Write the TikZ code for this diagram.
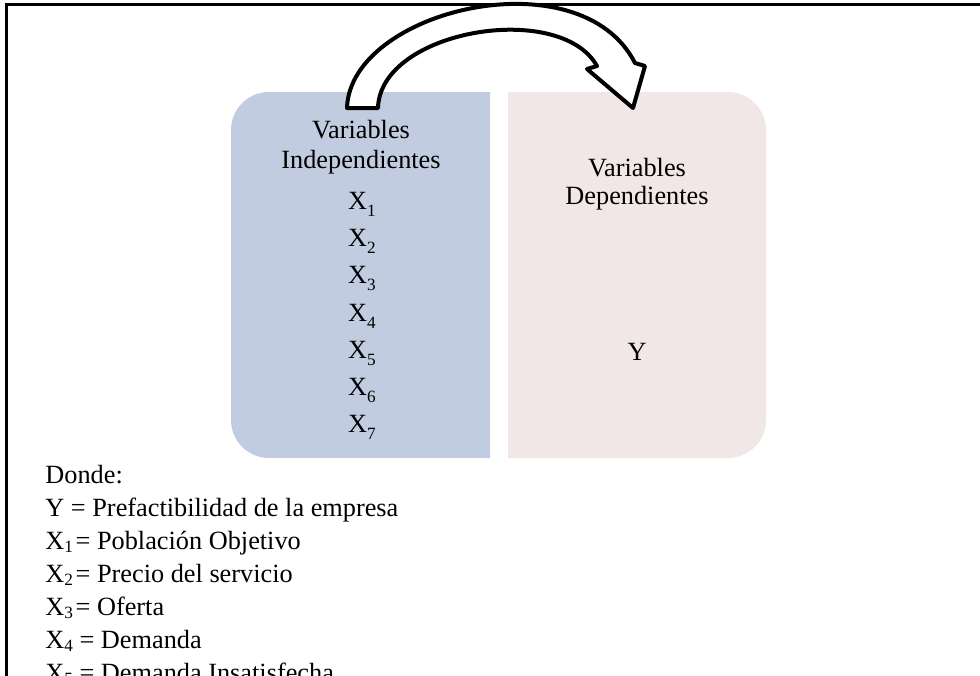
\documentclass[tikz,border=0pt]{standalone}
\usepackage{fontspec}
\setmainfont{Liberation Serif}
\definecolor{indepblue}{RGB}{193,204,224}
\definecolor{deppink}{RGB}{242,231,231}
% lowered subscripts: deeper inside the boxes, shallower in the legend
\newcommand{\boxsub}[1]{\raisebox{-0.30em}{\fontsize{8.6pt}{9pt}\selectfont #1}}
\newcommand{\legsub}[1]{\raisebox{-0.14em}{\fontsize{8.6pt}{9pt}\selectfont #1}}

\begin{document}
\begin{tikzpicture}[x=0.5pt,y=-0.5pt,
  txt/.style={inner sep=0pt, anchor=base, font=\fontsize{13.15pt}{15pt}\selectfont},
  ltxt/.style={txt, anchor=base west},
  frame/.style={line width=1.2pt, black},
  bendarrow/.style={fill=white, draw=black, line width=2pt, line join=round}]
\useasboundingbox (0,0) rectangle (980,675);
\clip (0,0) rectangle (980,675);

% page frame (top and left rules)
\draw[frame] (980,4.5) -- (6.5,4.5) -- (6.5,690);

% left panel: rounded on the left side only
\begin{scope}
  \clip (231,80) rectangle (490,470);
  \fill[indepblue, rounded corners=19pt] (231,92) rectangle (560,458);
\end{scope}
% right panel: rounded on the right side only
\begin{scope}
  \clip (508,80) rectangle (780,470);
  \fill[deppink, rounded corners=19pt] (440,92) rectangle (766,458);
\end{scope}

% curved block arrow from the left panel to the right panel
\draw[bendarrow] (347,108) .. controls (350,10) and (580,-45) .. (635,63)
  -- (645,66) -- (633,108) -- (587,69) -- (597,66)
  .. controls (560,0) and (380,30) .. (378,108) -- cycle;

% left panel text
\node[txt] (vi1) at (361,138) {Variables};
\node[txt] (vi2) at (361,168) {Independientes};
\node[txt] (x1) at (362,209) {X\boxsub{1}};
\node[txt] (x2) at (362,246) {X\boxsub{2}};
\node[txt] (x3) at (362,283) {X\boxsub{3}};
\node[txt] (x4) at (362,321) {X\boxsub{4}};
\node[txt] (x5) at (362,358) {X\boxsub{5}};
\node[txt] (x6) at (362,395) {X\boxsub{6}};
\node[txt] (x7) at (362,432) {X\boxsub{7}};

% right panel text
\node[txt] (vd1) at (637,176) {Variables};
\node[txt] (vd2) at (637,204) {Dependientes};
\node[txt] (yv) at (637,360) {Y};

% legend (the last line runs past the lower edge)
\node[ltxt] (l0) at (45,483) {Donde:};
\node[ltxt] (l1) at (45,516) {Y = Prefactibilidad de la empresa};
\node[ltxt] (l2) at (45,549) {X\legsub{1}\hspace{0.1em}= Población Objetivo};
\node[ltxt] (l3) at (45,582) {X\legsub{2}\hspace{0.1em}= Precio del servicio};
\node[ltxt] (l4) at (45,615) {X\legsub{3}\hspace{0.1em}= Oferta};
\node[ltxt] (l5) at (45,648) {X\legsub{4} = Demanda};
\node[ltxt] (l6) at (45,681) {X\legsub{5} = Demanda Insatisfecha};
\end{tikzpicture}
\end{document}
